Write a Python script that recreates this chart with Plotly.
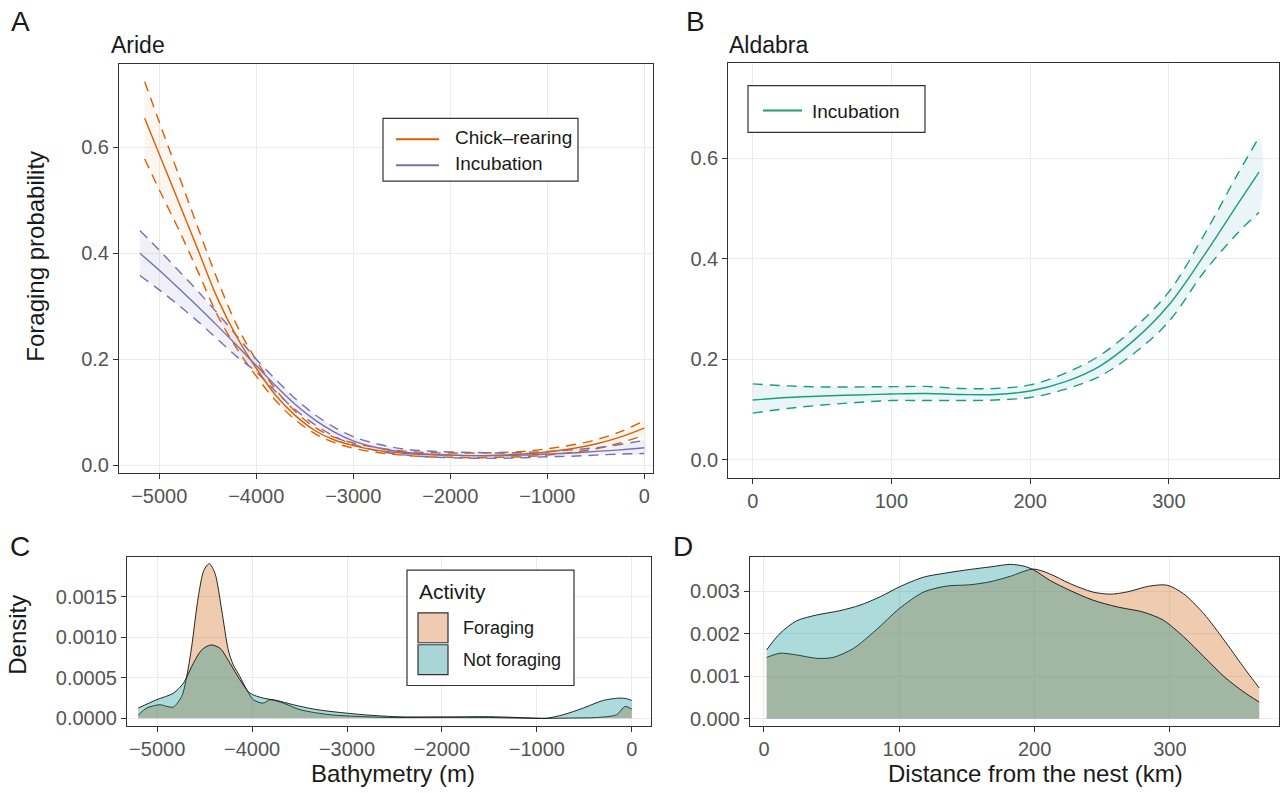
import plotly.graph_objects as go

# ---------------- Panel A: Aride (foraging probability vs bathymetry) -------------
chick_x = [-5150, -5000, -4800, -4600, -4400, -4200, -4000, -3800, -3600, -3400, -3200, -3000,
           -2750, -2500, -2250, -2000, -1750, -1500, -1250, -1000, -750, -500, -250, 0]
chick_fit = [0.655, 0.587, 0.497, 0.406, 0.315, 0.242, 0.183, 0.132, 0.094, 0.066, 0.048, 0.037,
             0.028, 0.023, 0.020, 0.019, 0.018, 0.019, 0.021, 0.025, 0.031, 0.040, 0.053, 0.070]
chick_up = [0.724, 0.648, 0.548, 0.448, 0.35, 0.264, 0.198, 0.143, 0.102, 0.072, 0.053, 0.042,
            0.033, 0.027, 0.024, 0.023, 0.023, 0.024, 0.026, 0.031, 0.038, 0.048, 0.063, 0.084]
chick_lo = [0.578, 0.52, 0.445, 0.365, 0.283, 0.22, 0.168, 0.122, 0.086, 0.06, 0.043, 0.032,
            0.024, 0.019, 0.016, 0.015, 0.014, 0.015, 0.016, 0.019, 0.024, 0.031, 0.042, 0.057]

incA_x = [-5200, -5000, -4800, -4600, -4400, -4200, -4000, -3800, -3600, -3400, -3200, -3000,
          -2750, -2500, -2250, -2000, -1750, -1500, -1250, -1000, -750, -500, -250, 0]
incA_fit = [0.40, 0.368, 0.334, 0.299, 0.263, 0.226, 0.188, 0.15, 0.115, 0.086, 0.063, 0.046,
            0.033, 0.025, 0.021, 0.019, 0.018, 0.018, 0.019, 0.021, 0.023, 0.026, 0.029, 0.033]
incA_up = [0.443, 0.406, 0.367, 0.328, 0.287, 0.244, 0.2, 0.162, 0.126, 0.096, 0.072, 0.054,
           0.04, 0.031, 0.027, 0.025, 0.024, 0.023, 0.024, 0.026, 0.029, 0.033, 0.039, 0.047]
incA_lo = [0.358, 0.331, 0.302, 0.271, 0.238, 0.205, 0.176, 0.139, 0.105, 0.077, 0.055, 0.039,
           0.027, 0.02, 0.016, 0.014, 0.013, 0.013, 0.014, 0.016, 0.017, 0.019, 0.021, 0.022]

# ---------------- Panel B: Aldabra (foraging probability vs distance) -------------
aldB_x = [0, 25, 50, 75, 100, 125, 150, 175, 200, 225, 250, 275, 300, 325, 350, 365]
aldB_fit = [0.119, 0.124, 0.127, 0.129, 0.131, 0.132, 0.130, 0.130, 0.137, 0.155, 0.186, 0.238,
            0.308, 0.405, 0.51, 0.572]
aldB_up = [0.151, 0.147, 0.145, 0.145, 0.1455, 0.146, 0.142, 0.142, 0.149, 0.172, 0.207, 0.262,
           0.334, 0.445, 0.57, 0.641]
aldB_lo = [0.093, 0.102, 0.109, 0.114, 0.118, 0.118, 0.118, 0.119, 0.124, 0.140, 0.166, 0.212,
           0.275, 0.372, 0.452, 0.492]

# ---------------- Panel C: density of bathymetry -------------
forC_x = [-5200, -5110, -4970, -4900, -4830, -4742, -4689, -4636, -4567, -4507, -4451, -4391,
          -4320, -4251, -4198, -4128, -4057, -3987, -3882, -3811, -3671, -3495, -3180, -2800,
          -2500, -2000, -1500, -1000, -900, -600, -370, -160, -70, 0]
forC_y = [0.00004, 0.000127, 0.000168, 0.000148, 0.00014, 0.00027, 0.000516, 0.00089, 0.0015,
          0.00183, 0.00191, 0.00179, 0.001336, 0.000845, 0.00066, 0.000516, 0.000353, 0.00023,
          0.000188, 0.00023, 0.000188, 0.000107, 0.000045, 0.00002, 0.00001, 0.000015, 0.00001,
          0.0, 0.0, 0.000005, 0.00001, 0.000045, 0.000147, 0.000115]
notC_x = [-5200, -5005, -4830, -4724, -4619, -4531, -4436, -4338, -4233, -4128, -4022, -3882,
          -3741, -3566, -3355, -3180, -2830, -2480, -2000, -1500, -1000, -900, -720, -510, -300,
          -123, -53, 0]
notC_y = [0.000127, 0.00023, 0.00031, 0.000434, 0.00068, 0.000845, 0.000906, 0.000865, 0.00068,
          0.000476, 0.000311, 0.00025, 0.000221, 0.000168, 0.000115, 0.000086, 0.000045, 0.00002,
          0.000015, 0.00002, 0.000002, 0.0, 0.000045, 0.000127, 0.000221, 0.00025, 0.000242,
          0.000221]

# ---------------- Panel D: density of distance from nest -------------
notD_x = [2, 12, 24, 39, 56, 71, 86, 100, 118, 135, 152, 167, 182, 192, 200, 211, 226, 243, 261,
          280, 295, 310, 325, 340, 354, 366]
notD_y = [0.00162, 0.00201, 0.0023, 0.00244, 0.00254, 0.00267, 0.00287, 0.0031, 0.00333, 0.00343,
          0.00351, 0.00357, 0.00363, 0.00359, 0.00349, 0.00326, 0.00302, 0.00279, 0.00263,
          0.00251, 0.00232, 0.00193, 0.00146, 0.00099, 0.00064, 0.00039]
forD_x = [2, 12, 24, 39, 51, 66, 83, 100, 118, 135, 152, 167, 182, 199, 211, 226, 243, 256, 268,
          285, 298, 310, 325, 340, 354, 366]
forD_y = [0.00144, 0.00154, 0.0015, 0.00142, 0.00144, 0.00165, 0.00209, 0.00259, 0.00298, 0.00312,
          0.00315, 0.00322, 0.00335, 0.00352, 0.00341, 0.00318, 0.00298, 0.00293, 0.00298,
          0.00312, 0.00314, 0.00294, 0.00247, 0.00185, 0.00123, 0.00072]

# ---------------- ticks -------------
bathy_ticks = [-5000, -4000, -3000, -2000, -1000, 0]
bathy_labels = ["\u22125000", "\u22124000", "\u22123000", "\u22122000", "\u22121000", "0"]
prob_ticks = [0.0, 0.2, 0.4, 0.6]
prob_labels = ["0.0", "0.2", "0.4", "0.6"]
dist_ticks = [0, 100, 200, 300]
dist_labels = ["0", "100", "200", "300"]
densC_ticks = [0.0, 0.0005, 0.0010, 0.0015]
densC_labels = ["0.0000", "0.0005", "0.0010", "0.0015"]
densD_ticks = [0.0, 0.001, 0.002, 0.003]
densD_labels = ["0.000", "0.001", "0.002", "0.003"]

# ---------------- style -------------
ORANGE = "#D95F02"
PURPLE = "#7570B3"
TEAL = "#1B9E77"
FONT = "Liberation Sans, Arial, sans-serif"
TICKC = "#555555"
TXT = "#1A1A1A"
DASH = "10px,7px"
W, H = 1280, 793


def px(x):
    return x / W


def py(y):
    return 1 - y / H


fig = go.Figure()


def ribbon(x, up, lo, color, xa, ya):
    fig.add_trace(go.Scatter(x=list(x) + list(x)[::-1], y=list(up) + list(lo)[::-1],
                             fill="toself", fillcolor=color, mode="lines",
                             line=dict(width=0, shape="spline"), xaxis=xa, yaxis=ya,
                             hoverinfo="skip", showlegend=False))


def curve(x, y, color, xa, ya, dash=None):
    fig.add_trace(go.Scatter(x=x, y=y, mode="lines",
                             line=dict(color=color, width=1.4, shape="spline", dash=dash),
                             xaxis=xa, yaxis=ya, hoverinfo="skip", showlegend=False))


# Panel A
ribbon(chick_x, chick_up, chick_lo, "rgba(217,95,2,0.06)", "x", "y")
ribbon(incA_x, incA_up, incA_lo, "rgba(117,112,179,0.10)", "x", "y")
curve(chick_x, chick_up, ORANGE, "x", "y", DASH)
curve(chick_x, chick_lo, ORANGE, "x", "y", DASH)
curve(incA_x, incA_up, PURPLE, "x", "y", DASH)
curve(incA_x, incA_lo, PURPLE, "x", "y", DASH)
curve(chick_x, chick_fit, ORANGE, "x", "y")
curve(incA_x, incA_fit, PURPLE, "x", "y")

# Panel B
ribbon(aldB_x, aldB_up, aldB_lo, "rgba(173,216,230,0.25)", "x2", "y2")
curve(aldB_x, aldB_up, TEAL, "x2", "y2", DASH)
curve(aldB_x, aldB_lo, TEAL, "x2", "y2", DASH)
curve(aldB_x, aldB_fit, TEAL, "x2", "y2")

FOR_FILL = "rgba(210,105,30,0.35)"
NOT_FILL = "rgba(0,139,139,0.32)"


def density(x, y, fillc, xa, ya):
    fig.add_trace(go.Scatter(x=x, y=y, mode="lines", fill="tozeroy", fillcolor=fillc,
                             line=dict(color="#111111", width=0.9, shape="spline", smoothing=0.8),
                             xaxis=xa, yaxis=ya, hoverinfo="skip", showlegend=False))


density(forC_x, forC_y, FOR_FILL, "x3", "y3")
density(notC_x, notC_y, NOT_FILL, "x3", "y3")
density(forD_x, forD_y, FOR_FILL, "x4", "y4")
density(notD_x, notD_y, NOT_FILL, "x4", "y4")


def axis(domain, anchor, rng, tv, tt):
    return dict(domain=domain, anchor=anchor, range=rng, tickvals=tv, ticktext=tt,
                showline=True, mirror=True, linecolor="#333333", linewidth=1.1,
                showgrid=True, gridcolor="#EBEBEB", gridwidth=1, zeroline=False,
                ticks="outside", ticklen=5, tickwidth=1, tickcolor="#333333",
                tickfont=dict(family=FONT, size=20, color=TICKC), fixedrange=True)


fig.update_layout(
    width=W, height=H, autosize=False,
    margin=dict(l=0, r=0, t=0, b=0),
    paper_bgcolor="white", plot_bgcolor="white",
    font=dict(family=FONT, color=TXT),
    xaxis=axis([px(119), px(652.7)], "y", [-5415, 87], bathy_ticks, bathy_labels),
    yaxis=axis([py(475), py(64)], "x", [-0.014, 0.758], prob_ticks, prob_labels),
    xaxis2=axis([px(728.3), px(1278.7)], "y2", [-17.6, 379.2], dist_ticks, dist_labels),
    yaxis2=axis([py(480.7), py(63.3)], "x2", [-0.0366, 0.789], prob_ticks, prob_labels),
    xaxis3=axis([px(127), px(651)], "y3", [-5318, 203], bathy_ticks, bathy_labels),
    yaxis3=axis([py(729.3), py(560)], "x3", [-0.00009, 0.00199], densC_ticks, densC_labels),
    xaxis4=axis([px(750), px(1279)], "y4", [-10.3, 380.6], dist_ticks, dist_labels),
    yaxis4=axis([py(729.3), py(560)], "x4", [-0.000164, 0.0038], densD_ticks, densD_labels),
)

ann = []


def text(x, y, s, size, xanchor="left", angle=0, color=TXT):
    ann.append(dict(x=px(x), y=py(y), xref="paper", yref="paper", text=s, showarrow=False,
                    xanchor=xanchor, yanchor="middle", textangle=angle,
                    font=dict(family=FONT, size=size, color=color)))


# panel letters and titles
text(9, 22, "A", 28)
text(684, 22, "B", 28)
text(8, 549, "C", 28)
text(671, 549, "D", 28)
text(109, 45, "Aride", 23)
text(727, 45, "Aldabra", 23)
# axis titles
text(36, 258, "Foraging probability", 24, "center", -90)
text(18, 638, "Density", 24, "center", -90)
text(393, 777, "Bathymetry (m)", 24, "center")
text(1035, 777, "Distance from the nest (km)", 24, "center")

shapes = []


def rect(x0, y0, x1, y1, fill="white", line="#333333", lw=1.2):
    shapes.append(dict(type="rect", xref="paper", yref="paper", x0=px(x0), x1=px(x1),
                       y0=py(y1), y1=py(y0), fillcolor=fill, line=dict(color=line, width=lw),
                       layer="above"))


def seg(x0, x1, y, color):
    shapes.append(dict(type="line", xref="paper", yref="paper", x0=px(x0), x1=px(x1),
                       y0=py(y), y1=py(y), line=dict(color=color, width=2), layer="above"))


# Legend A
rect(383, 119, 578, 182)
seg(396, 439, 140, ORANGE)
seg(396, 439, 166, PURPLE)
text(453, 138, "Chick\u2013rearing", 19)
text(453, 164, "Incubation", 19)

# Legend B
rect(748, 86, 925, 133)
seg(763, 802, 111, TEAL)
text(810, 112, "Incubation", 19)

# Legend C
rect(407, 573, 574, 689)
text(417, 595, "Activity", 21)
rect(418, 616, 448, 646, fill="rgb(239,203,177)", lw=1.2)
rect(418, 648, 448, 678, fill="rgb(168,214,214)", lw=1.2)
text(461, 631, "Foraging", 18)
text(461, 663, "Not foraging", 18)

fig.update_layout(annotations=ann, shapes=shapes)

fig.write_html(
    "out.html",
    config={"displayModeBar": False},
    post_script="document.body.style.margin='0px';document.body.style.padding='0px';"
                "document.documentElement.style.overflow='hidden';",
)
